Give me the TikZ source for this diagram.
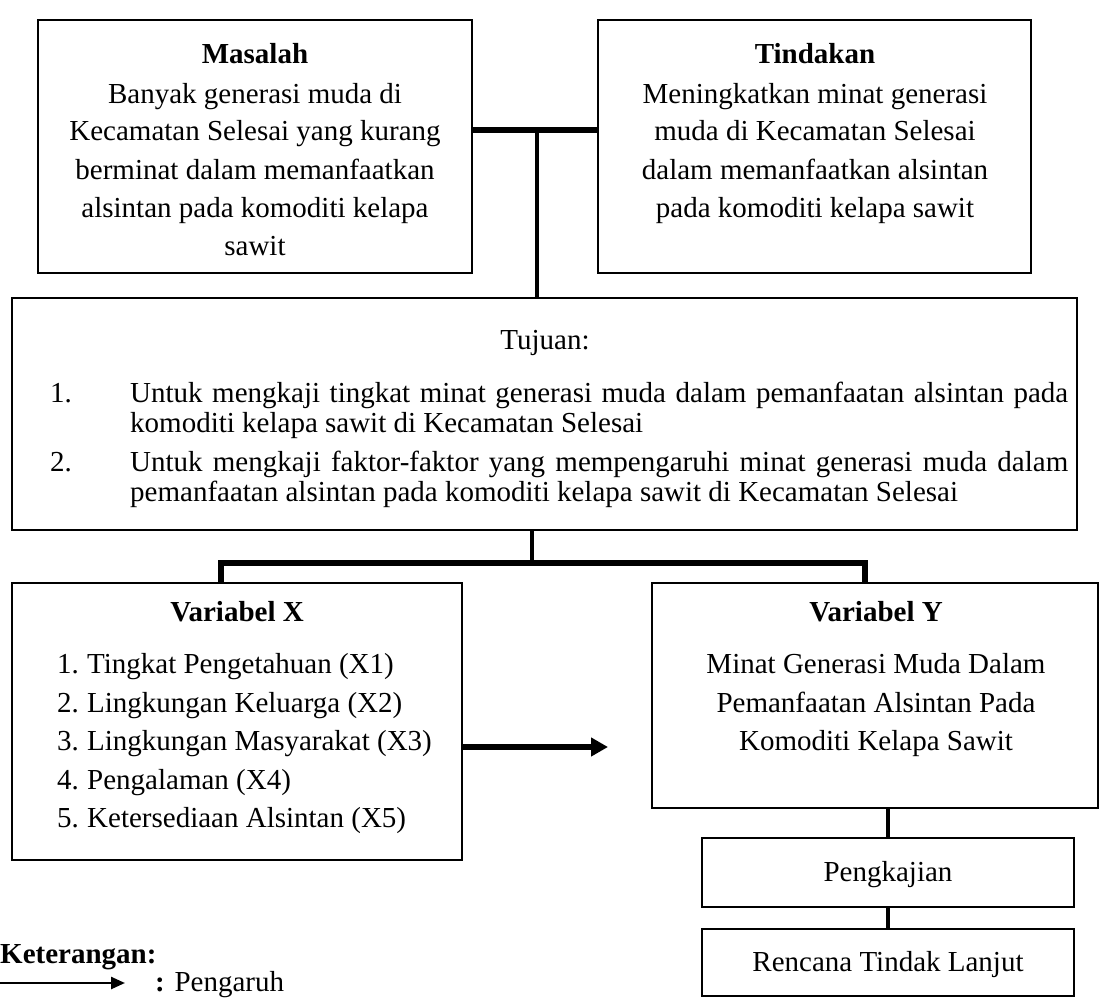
\documentclass[tikz,border=0pt]{standalone}
\usepackage{fontspec}
\setmainfont{Liberation Serif}
\usetikzlibrary{arrows.meta}
\begin{document}
\begin{tikzpicture}[x=1pt,y=-1pt,
  box/.style={draw, line width=2.5pt, rectangle, inner sep=0pt},
  txt/.style={anchor=base, inner sep=0pt, font=\fontsize{29}{35}\selectfont},
  ltxt/.style={txt, anchor=base west},
  conn/.style={line width=4pt},
  thickconn/.style={line width=6pt},
  arr/.style={line width=6pt, -{Triangle[length=17pt,width=18pt]}},
  legarr/.style={line width=2.5pt, -{Triangle[length=14pt,width=12pt]}}]
\useasboundingbox (0,0) rectangle (1101,998);

% boxes
\node[box, minimum width=434pt, minimum height=253pt] (mas) at (255,146.5) {};
\node[box, minimum width=433pt, minimum height=253pt] (tin) at (814.5,146.5) {};
\node[box, minimum width=1065pt, minimum height=232pt] (tuj) at (544.5,414) {};
\node[box, minimum width=450pt, minimum height=277pt] (varx) at (237,721.5) {};
\node[box, minimum width=446pt, minimum height=225pt] (vary) at (875,695.5) {};
\node[box, minimum width=372pt, minimum height=69pt] (pk) at (888,872.5) {};
\node[box, minimum width=372pt, minimum height=67pt] (rtl) at (888,962.5) {};

% Masalah
\node[txt] (masT) at (255,64) {\textbf{Masalah}};
\foreach \t/\y [count=\i] in {Banyak generasi muda di/94, Kecamatan Selesai yang kurang/131, berminat dalam memanfaatkan/170, alsintan pada komoditi kelapa/208, sawit/246}
  \node[txt] (mas\i) at (255,\y+9) {\t};

% Tindakan
\node[txt] (tinT) at (815,64) {\textbf{Tindakan}};
\foreach \t/\y [count=\i] in {Meningkatkan minat generasi/94, muda di Kecamatan Selesai/131, dalam memanfaatkan alsintan/170, pada komoditi kelapa sawit/208}
  \node[txt] (tin\i) at (815,\y+9) {\t};

% Tujuan
\node[txt] (tujT) at (545,349) {Tujuan:};
\node[ltxt] (n1) at (50,402) {1.};
\node[ltxt] (t1a) at (130,402) {\makebox[938pt][s]{Untuk mengkaji tingkat minat generasi muda dalam pemanfaatan alsintan pada}};
\node[ltxt] (t1b) at (130,432) {komoditi kelapa sawit di Kecamatan Selesai};
\node[ltxt] (n2) at (50,471) {2.};
\node[ltxt] (t2a) at (130,471) {\makebox[938pt][s]{Untuk mengkaji faktor-faktor yang mempengaruhi minat generasi muda dalam}};
\node[ltxt] (t2b) at (130,501) {pemanfaatan alsintan pada komoditi kelapa sawit di Kecamatan Selesai};

% Variabel X
\node[txt] (vxT) at (237,621) {\textbf{Variabel X}};
\foreach \t/\y [count=\i] in {Tingkat Pengetahuan (X1)/664, Lingkungan Keluarga (X2)/703, Lingkungan Masyarakat (X3)/741, Pengalaman (X4)/780, Ketersediaan Alsintan (X5)/818}
  {\node[ltxt] (vxn\i) at (57,\y+9) {\i.};
   \node[ltxt] (vx\i) at (87,\y+9) {\t};}

% Variabel Y
\node[txt] (vyT) at (876,621) {\textbf{Variabel Y}};
\foreach \t/\y [count=\i] in {Minat Generasi Muda Dalam/664, Pemanfaatan Alsintan Pada/703, Komoditi Kelapa Sawit/741}
  \node[txt] (vy\i) at (876,\y+9) {\t};

% small boxes
\node[txt] (pkT) at (888,881) {Pengkajian};
\node[txt] (rtlT) at (888,971) {Rencana Tindak Lanjut};

% legend
\node[ltxt] (ket) at (0,963) {\textbf{Keterangan:}};
\coordinate (la) at (0,983);
\coordinate (lb) at (125,983);
\draw[legarr] (la) -- (lb);
\node[ltxt] (peng) at (155,991) {\textbf{:} Pengaruh};

% connectors
\coordinate (j1) at (537,130);
\draw[thickconn] (mas.east |- j1) -- (tin.west |- j1);
\draw[conn] (j1) -- (j1 |- tuj.north);

\coordinate (j2) at (532,563);
\coordinate (j3) at (221,563);
\coordinate (j4) at (865,563);
\draw[conn] (j2 |- tuj.south) -- (j2);
\draw[line width=5.5pt] (j3 |- varx.north) -- (j3) -- (j4) -- (j4 |- vary.north);

\coordinate (j5) at (888,850);
\draw[conn] (j5 |- vary.south) -- (j5 |- pk.north);
\draw[conn] (j5 |- pk.south) -- (j5 |- rtl.north);

\coordinate (atip) at (608,747);
\draw[arr] (varx.east |- atip) -- (atip);
\end{tikzpicture}
\end{document}
